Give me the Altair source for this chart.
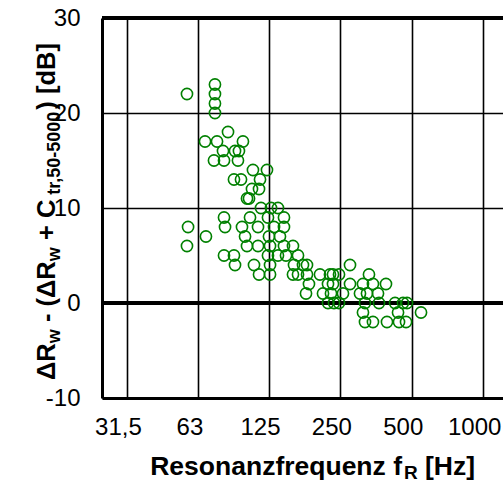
import altair as alt
import pandas as pd

# Resonance frequency [Hz] and difference [dB]
freq = [74.0, 56.4, 74.0, 74.0, 74.0, 84.0,
        67.2, 75.5, 97.1,
        80.0, 89.9, 93.4,
        73.3, 80.8, 92.5,
        107.0, 122.6,
        89.0, 95.3, 114.6,
        106.0, 113.5,
        101.0, 103.0,
        115.7, 127.5, 136.4,
        80.8, 104.0, 123.8, 144.6,
        57.0, 81.6, 96.2, 112.4, 131.3, 144.6,
        67.8, 99.1, 125.0, 139.1,
        56.4, 101.0, 112.4, 126.3, 144.6, 157.8,
        80.8, 89.0, 123.8, 136.4, 147.5, 165.7,
        89.9, 108.1, 126.3, 159.4, 173.9, 180.8, 274.5,
        113.5, 126.3, 157.8, 165.7, 180.8, 205.1, 226.0, 232.7, 246.7, 330.0,
        184.3, 221.7, 232.7, 274.5, 311.3, 343.0, 389.2,
        179.1, 211.2, 228.2, 256.4, 302.4, 323.7, 360.2,
        221.7, 235.0, 246.7, 317.5, 363.7, 425.0, 459.3, 477.4,
        311.3, 437.5, 546.9,
        317.5, 343.0, 393.0, 441.7, 472.9]
delta = [23, 22, 22, 21, 20, 18,
         17, 17, 17,
         16, 16, 16,
         15, 15, 15,
         14, 14,
         13, 13, 13,
         12, 12,
         11, 11,
         10, 10, 10,
         9, 9, 9, 9,
         8, 8, 8, 8, 8, 8,
         7, 7, 7, 7,
         6, 6, 6, 6, 6, 6,
         5, 5, 5, 5, 5, 5,
         4, 4, 4, 4, 4, 4, 4,
         3, 3, 3, 3, 3, 3, 3, 3, 3, 3,
         2, 2, 2, 2, 2, 2, 2,
         1, 1, 1, 1, 1, 1, 1,
         0, 0, 0, 0, 0, 0, 0, 0,
         -1, -1, -1,
         -2, -2, -2, -2, -2]

x_ticks = [31.5, 63, 125, 250, 500, 1000]
y_ticks = [-10, 0, 10, 20, 30]

df = pd.DataFrame({"f": freq, "d": delta})

FONT = "Liberation Sans"
W, H = 401, 380

xscale = alt.Scale(type="log", base=2, domain=[24.72, 1212], nice=False)
yscale = alt.Scale(domain=[-10, 30], nice=False)

points = alt.Chart(df).mark_point(
    shape="circle", filled=False, color="#008000", size=125, strokeWidth=1.6, opacity=1
).encode(
    x=alt.X("f:Q", scale=xscale,
            axis=alt.Axis(values=x_ticks, title=None, grid=True, gridColor="black",
                          gridWidth=1.6, gridOpacity=1, domainColor="black", domainWidth=3,
                          ticks=False, labelFontSize=24, labelFont=FONT, labelColor="black",
                          labelPadding=17, labelOffset=-9, labelFlush=False, labelOverlap=False,
                          labelExpr="datum.value == 31.5 ? '31,5' : '' + datum.value")),
    y=alt.Y("d:Q", scale=yscale,
            axis=alt.Axis(values=y_ticks, title=None, grid=True, gridColor="black",
                          gridWidth=1.6, gridOpacity=1, domainColor="black", domainWidth=3,
                          ticks=False, labelFontSize=24, labelFont=FONT, labelColor="black",
                          labelPadding=22, labelFlush=False, labelOverlap=False,
                          labelExpr="'' + datum.value")),
)

zero = alt.Chart(df).mark_rule(color="black", strokeWidth=3.5).encode(y=alt.datum(0))
top = alt.Chart(df).mark_rule(color="black", strokeWidth=3).encode(y=alt.datum(30))


def txt(s, x, y, size, angle=0, align="left"):
    return alt.Chart(pd.DataFrame({"t": [s]})).mark_text(
        text=s, font=FONT, fontWeight="bold", fontSize=size, color="black",
        align=align, baseline="alphabetic", angle=angle
    ).encode(x=alt.value(x), y=alt.value(y))


# approximate Arial/Liberation Bold advance widths (em) for laying out title pieces
EM = {"\u0394": 0.722, "R": 0.722, "w": 0.778, " ": 0.278, "-": 0.333, "(": 0.333,
      ")": 0.333, "+": 0.584, "C": 0.722, "t": 0.333, "r": 0.389, ",": 0.278,
      "5": 0.556, "0": 0.556, "[": 0.333, "]": 0.333, "d": 0.611, "B": 0.722}


def width(s, size):
    return sum(EM.get(c, 0.6) for c in s) * size


# x title: Resonanzfrequenz f_R [Hz]
XB, XS = 26.5, 19
xt_y = 457
xtitle = [
    txt("Resonanzfrequenz f", 402 - 102, xt_y, XB, align="right"),
    txt("R", 404 - 102, xt_y + 4, XS),
    txt("[Hz]", 425 - 102, xt_y, XB),
]

# y title: ΔR_w - (ΔR_w + C_tr,50-5000) [dB], rotated, reading upwards
YB, YS = 25.5, 18
SP = EM[" "] * YB
# (text, is_subscript, gap before it in px)
pieces = [("\u0394R", False, 0), ("w", True, 0), ("- (\u0394R", False, SP),
          ("w", True, 0), ("+ C", False, SP), ("tr,50-5000", True, 5),
          (") [dB]", False, 1)]
yb, ys = -47, -42
pos = 380 - 18
ytitle = []
for s, sub, gap in pieces:
    size = YS if sub else YB
    pos -= gap
    ytitle.append(txt(s, ys if sub else yb, pos, size, angle=270))
    pos -= width(s, size)

chart = alt.layer(zero, top, points, *xtitle, *ytitle).properties(
    width=W, height=H,
    autosize=alt.AutoSizeParams(type="none"),
    padding={"left": 102, "top": 18, "right": 0, "bottom": 85},
).configure_view(stroke=None).configure(background="white")

chart.save("out.html", embed_options={"renderer": "svg", "actions": False})
